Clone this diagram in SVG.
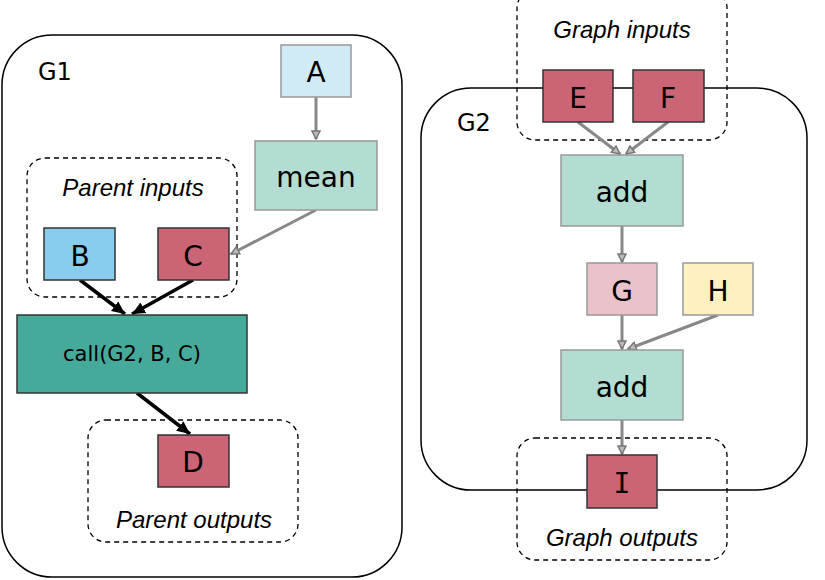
<svg xmlns="http://www.w3.org/2000/svg" width="825" height="580" viewBox="0 0 825 580">
<defs>
<marker id="ga" markerWidth="10" markerHeight="10" refX="9" refY="5" orient="auto" markerUnits="userSpaceOnUse"><path d="M1,1 L9,5 L1,9 Z" fill="#bbb" stroke="#777" stroke-width="1.5"/></marker>
<marker id="ba" markerWidth="14" markerHeight="14" refX="13" refY="7" orient="auto" markerUnits="userSpaceOnUse"><path d="M0,1 L13,7 L0,13 Z" fill="#000"/></marker>
</defs>
<style>
.grp{fill:none;stroke:#000;stroke-width:1.5}
.dash{fill:none;stroke:#000;stroke-width:1.3;stroke-dasharray:5,4}
.n{stroke-width:1.5}
.g{stroke:#999}
.d{stroke:#333}
.t{font-family:"DejaVu Sans",Verdana,sans-serif;font-size:28px;text-anchor:middle;dominant-baseline:central;fill:#000}
.lbl{font-family:"Liberation Sans",Arial,sans-serif;font-size:24px;font-style:italic;text-anchor:middle;fill:#000}
.gl{font-family:"DejaVu Sans",Verdana,sans-serif;font-size:24px;fill:#000}
.ge{fill:none;stroke:#888;stroke-width:3;marker-end:url(#ga)}
.be{fill:none;stroke:#000;stroke-width:3.5;marker-end:url(#ba)}
</style>
<g id="G1"><rect class="grp" x="2" y="35" width="400" height="542" rx="50"/><text class="gl" x="38" y="80">G1</text></g>
<g id="G2"><rect class="grp" x="421" y="88" width="386" height="402" rx="50"/><text class="gl" x="457" y="131">G2</text></g>
<g id="parent-inputs"><rect class="dash" x="27" y="158" width="210" height="139" rx="18"/><text class="lbl" x="133" y="196">Parent inputs</text></g>
<g id="parent-outputs"><rect class="dash" x="88" y="420" width="210" height="122" rx="18"/><text class="lbl" x="194" y="528">Parent outputs</text></g>
<g id="graph-inputs"><rect class="dash" x="517" y="-10" width="210" height="150" rx="18"/><text class="lbl" x="622" y="38">Graph inputs</text></g>
<g id="graph-outputs"><rect class="dash" x="517" y="438" width="210" height="122" rx="18"/><text class="lbl" x="622" y="546">Graph outputs</text></g>
<g id="connectors">
<path class="ge" d="M316,97 L316,139"/>
<path class="ge" d="M316,210 L231,254"/>
<path class="be" d="M80,280 L125,314"/>
<path class="be" d="M193,280 L132,314"/>
<path class="be" d="M137,393 L190,434"/>
<path class="ge" d="M578,122 L620,154"/>
<path class="ge" d="M668,122 L626,154"/>
<path class="ge" d="M622,226 L622,262"/>
<path class="ge" d="M622,315 L622,349"/>
<path class="ge" d="M718,315 L628,349"/>
<path class="ge" d="M622,420 L622,454"/>
</g>
<g id="A"><rect class="n g" x="281" y="45" width="70" height="52" fill="#d1ebf6"/><text class="t" x="316" y="72">A</text></g>
<g id="mean"><rect class="n g" x="255" y="141" width="122" height="69" fill="#b3ddd3"/><text class="t" x="316" y="177">mean</text></g>
<g id="B"><rect class="n d" x="44" y="228" width="71" height="52" fill="#88cdec"/><text class="t" x="80" y="256">B</text></g>
<g id="C"><rect class="n d" x="158" y="228" width="71" height="52" fill="#cb6576"/><text class="t" x="193" y="256">C</text></g>
<g id="call"><rect class="n d" x="17" y="315" width="230" height="78" fill="#46aa9a"/><text class="t" x="132" y="354" style="font-size:21px">call(G2, B, C)</text></g>
<g id="D"><rect class="n d" x="158" y="435" width="71" height="52" fill="#cb6576"/><text class="t" x="193" y="462">D</text></g>
<g id="E"><rect class="n d" x="543" y="70" width="70" height="52" fill="#cb6576"/><text class="t" x="578" y="98">E</text></g>
<g id="F"><rect class="n d" x="633" y="70" width="71" height="52" fill="#cb6576"/><text class="t" x="668" y="98">F</text></g>
<g id="add1"><rect class="n g" x="561" y="155" width="122" height="71" fill="#b3ddd3"/><text class="t" x="622" y="192">add</text></g>
<g id="G"><rect class="n g" x="587" y="263" width="70" height="52" fill="#eac2c9"/><text class="t" x="622" y="291">G</text></g>
<g id="H"><rect class="n g" x="683" y="263" width="70" height="52" fill="#fff0c2"/><text class="t" x="718" y="291">H</text></g>
<g id="add2"><rect class="n g" x="561" y="350" width="122" height="70" fill="#b3ddd3"/><text class="t" x="622" y="387">add</text></g>
<g id="I"><rect class="n d" x="587" y="455" width="70" height="53" fill="#cb6576"/><text class="t" x="622" y="483" style="font-family:'DejaVu Sans Mono',monospace">I</text></g>
</svg>
